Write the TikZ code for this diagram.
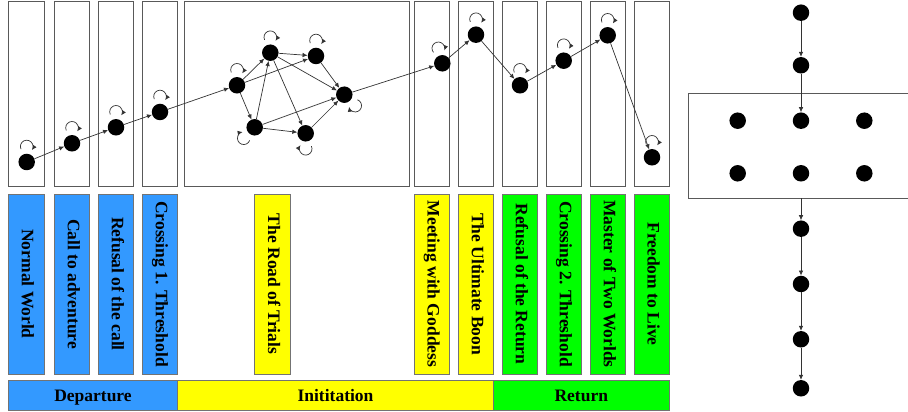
\documentclass[tikz,border=0pt]{standalone}
\usepackage{fontspec}
\setmainfont{Liberation Serif}
\usetikzlibrary{arrows.meta}
\definecolor{cblue}{HTML}{3399FF}
\definecolor{cyellow}{HTML}{FFFF00}
\definecolor{cgreen}{HTML}{00FF00}
\newcommand\hloop[2]{\draw[conn] (#1) ++(#2:15.5) ++(#2+115:6.3) arc[start angle=#2+115, end angle=#2-125, radius=6.3];}
\begin{document}
\begin{tikzpicture}[x=1pt,y=1pt,
  frame/.style={draw=black!65, line width=0.8pt},
  dot/.style={circle, fill=black, inner sep=0pt, minimum size=16.5pt},
  conn/.style={draw=black!80, line width=0.7pt, -{Latex[length=5pt,width=4.5pt]}},
  lbl/.style={draw=black!55, line width=0.7pt, rotate=-90, minimum width=180pt, minimum height=35.5pt, inner sep=0pt, text height=12pt, text depth=3.5pt, font=\bfseries\fontsize{17.5}{17.5}\selectfont},
  bar/.style={draw=black!55, line width=0.7pt, minimum height=30pt, inner sep=0pt, text height=11.5pt, text depth=0pt, font=\bfseries\fontsize{17.5}{17.5}\selectfont},
]
\useasboundingbox (0,0) rectangle (908,412);
% top frames
\foreach \a/\b in {8.3/44, 54.3/89.7, 98.3/133.7, 142.3/177.7, 184/409.3, 414/449.7, 458.3/493.7, 502.3/537.7, 546.3/581.7, 590.3/625.7, 634/669.7}
  \draw[frame] (\a,226) rectangle (\b,411);
% nodes
\node[dot] (n1) at (26.7,250) {};
\node[dot] (n2) at (72,268.7) {};
\node[dot] (n3) at (116,284.7) {};
\node[dot] (n4) at (160,300) {};
\node[dot] (A) at (237,326.7) {};
\node[dot] (B) at (270.3,359.3) {};
\node[dot] (C) at (316,356) {};
\node[dot] (D) at (344.3,317.3) {};
\node[dot] (E) at (254.7,284.7) {};
\node[dot] (F) at (305.7,278.7) {};
\node[dot] (G) at (442.3,348.7) {};
\node[dot] (H) at (476,377.3) {};
\node[dot] (I) at (520,326.7) {};
\node[dot] (J) at (563.7,351.3) {};
\node[dot] (K) at (607.7,376.7) {};
\node[dot] (L) at (652,254.7) {};
% edges
\foreach \s/\t in {n1/n2, n2/n3, n3/n4, n4/A, A/B, A/C, A/E, E/B, B/C, B/D, B/F, C/D, E/D, E/F, F/D, D/G, G/H, H/I, I/J, J/K, K/L}
  \draw[conn] (\s) -- (\t);
% self loops
\foreach \n/\ang in {n1/90, n2/90, n3/90, n4/90, A/90, B/90, C/90, D/-45, E/-135, F/-90, G/105, H/90, I/90, J/90, K/90, L/90}
  \hloop{\n}{\ang}
% labels
\node[lbl, fill=cblue] at (26.15,128) {Normal World};
\node[lbl, fill=cblue] at (72,128) {Call to adventure};
\node[lbl, fill=cblue] at (116,128) {Refusal of the call};
\node[lbl, fill=cblue] at (160,128) {Crossing 1. Threshold};
\node[lbl, fill=cyellow] at (272.35,128) {The Road of Trials};
\node[lbl, fill=cyellow] at (431.85,128) {Meeting with Goddess};
\node[lbl, fill=cyellow] at (476,128) {The Ultimate Boon};
\node[lbl, fill=cgreen] at (520,128) {Refusal of the Return};
\node[lbl, fill=cgreen] at (564,128) {Crossing 2. Threshold};
\node[lbl, fill=cgreen] at (608,128) {Master of Two Worlds};
\node[lbl, fill=cgreen] at (651.85,128) {Freedom to Live};
% bottom bar
\node[bar, fill=cblue, minimum width=169.4pt] at (93,16.3) {Departure};
\node[bar, fill=cyellow, minimum width=315.6pt] at (335.5,16.3) {Inititation};
\node[bar, fill=cgreen, minimum width=176pt] at (581.3,16.3) {Return};
% right graph
\draw[frame] (910,318.7) -- (688.3,318.7) -- (688.3,213.7) -- (910,213.7);
\node[dot] (r1) at (801,399.3) {};
\node[dot] (r2) at (801,346.7) {};
\node[dot] (m1) at (737.7,291.3) {};
\node[dot] (m2) at (801,291.3) {};
\node[dot] (m3) at (864.3,291.3) {};
\node[dot] (m4) at (737.7,238.7) {};
\node[dot] (m5) at (801,238.7) {};
\node[dot] (m6) at (864.3,238.7) {};
\coordinate (bx) at (801,213.7);
\node[dot] (r3) at (801,183.3) {};
\node[dot] (r4) at (801,128) {};
\node[dot] (r5) at (801,72.7) {};
\node[dot] (r6) at (801,23.7) {};
\draw[conn] (r1) -- (r2);
\draw[conn] (r2) -- (m2);
\draw[conn] (bx) -- (r3);
\draw[conn] (r3) -- (r4);
\draw[conn] (r4) -- (r5);
\draw[conn] (r5) -- (r6);
\end{tikzpicture}
\end{document}
